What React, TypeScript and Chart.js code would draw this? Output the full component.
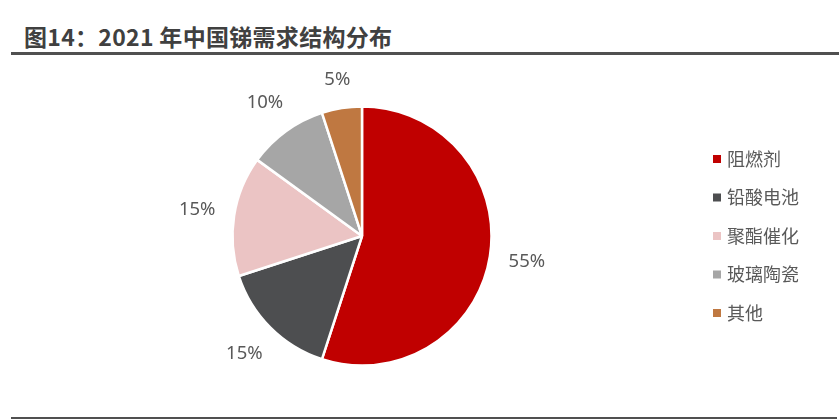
import React, { useEffect, useRef } from 'react';
import { Chart, registerables } from 'chart.js';

Chart.register(...registerables);

const categories = ['阻燃剂', '铅酸电池', '聚酯催化', '玻璃陶瓷', '其他'];
const shares = [55, 15, 15, 10, 5];
const sliceColors = ['#C00000', '#4D4E50', '#EBC4C4', '#A6A6A6', '#BF7841'];

const TEXT_COLOR = '#595959';
const CJK_FONT = '"Noto Sans CJK SC", "Noto Sans", sans-serif';
const NUM_FONT = '"Noto Sans", "Noto Sans CJK SC", sans-serif';

// percent labels just outside each slice
const outsideLabels = {
    id: 'outsideLabels',
    afterDatasetsDraw(chart: Chart) {
        const ctx = chart.ctx;
        const meta = chart.getDatasetMeta(0);
        ctx.save();
        ctx.font = `18.5px ${NUM_FONT}`;
        ctx.fillStyle = TEXT_COLOR;
        ctx.textAlign = 'center';
        ctx.textBaseline = 'middle';
        meta.data.forEach((arc: any, i: number) => {
            const { x, y, startAngle, endAngle, outerRadius } = arc.getProps(
                ['x', 'y', 'startAngle', 'endAngle', 'outerRadius'], true);
            const a = (startAngle + endAngle) / 2;
            const text = `${shares[i]}%`;
            const w = ctx.measureText(text).width;
            const h = 17;
            const cos = Math.cos(a);
            const sin = Math.sin(a);
            const d = outerRadius + 18 + Math.abs(cos) * w / 2 + Math.abs(sin) * h / 2;
            ctx.fillText(text, x + cos * d, y + sin * d);
        });
        ctx.restore();
    },
};

// legend on the right, square markers
const sideLegend = {
    id: 'sideLegend',
    afterDraw(chart: Chart) {
        const ctx = chart.ctx;
        const colors = chart.data.datasets[0].backgroundColor as string[];
        ctx.save();
        ctx.font = `18px ${CJK_FONT}`;
        ctx.textAlign = 'left';
        ctx.textBaseline = 'middle';
        (chart.data.labels as string[]).forEach((label, i) => {
            const y = 159 + i * 38.5;
            ctx.fillStyle = colors[i];
            ctx.fillRect(713, y - 4, 8, 8);
            ctx.fillStyle = TEXT_COLOR;
            ctx.fillText(label, 727, y);
        });
        ctx.restore();
    },
};

const PieChart: React.FC = () => {
    const chartRef = useRef<HTMLCanvasElement>(null);
    const chartInstanceRef = useRef<Chart | null>(null);

    useEffect(() => {
        if (chartInstanceRef.current) {
            chartInstanceRef.current.destroy();
        }
        if (chartRef.current) {
            chartInstanceRef.current = new Chart(chartRef.current, {
                type: 'pie',
                data: {
                    labels: categories,
                    datasets: [{
                        data: shares,
                        backgroundColor: sliceColors,
                        borderColor: '#ffffff',
                        borderWidth: 2.5,
                    }],
                },
                options: {
                    animation: false,
                    responsive: true,
                    maintainAspectRatio: false,
                    events: [],
                    radius: 129.5,
                    layout: { padding: { left: 212, right: 327, top: 86, bottom: 33 } },
                    plugins: {
                        legend: { display: false },
                        tooltip: { enabled: false },
                    },
                } as any,
                plugins: [outsideLabels, sideLegend],
            });
        }
        return () => {
            chartInstanceRef.current?.destroy();
            chartInstanceRef.current = null;
        };
    }, []);

    return (
        <div style={{ position: 'absolute', left: 0, top: 0, width: 839, height: 419 }}>
            <canvas ref={chartRef}></canvas>
        </div>
    );
};

const App: React.FC = () => (
    <div style={{ position: 'fixed', left: 0, top: 0, width: 839, height: 419, background: '#fff', overflow: 'hidden' }}>
        {/* Title */}
        <div style={{
            position: 'absolute', left: 24, top: 25, fontFamily: CJK_FONT, fontWeight: 'bold',
            fontSize: 23, lineHeight: '23px', color: '#404040', whiteSpace: 'nowrap', letterSpacing: 0.3,
        }}>
            图14：2021 年中国锑需求结构分布
        </div>
        <div style={{ position: 'absolute', left: 11, top: 52, width: 828, height: 2.5, background: '#505050' }} />
        <PieChart />
        <div style={{ position: 'absolute', left: 11, top: 417, width: 826, height: 2, background: '#505050' }} />
    </div>
);

export default App;
